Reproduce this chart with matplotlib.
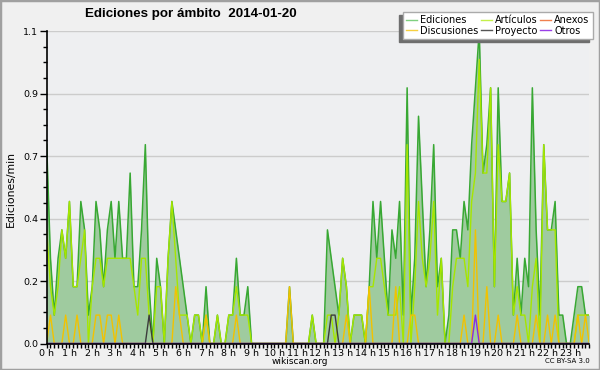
import numpy as np
import matplotlib
matplotlib.use("Agg")
import matplotlib.pyplot as plt
from matplotlib.ticker import FixedLocator, MultipleLocator

# edits per 10-minute slot (counts), rate = count / 10 per minute
ediciones = [7, 3, 1, 3, 4, 3, 5, 2, 2, 5,
             4, 1, 2, 5, 4, 2, 4, 5, 3, 5,
             3, 3, 6, 2, 2, 4, 7, 2, 0, 3,
             2, 0, 3, 5, 4, 3, 2, 1, 0, 1,
             1, 0, 2, 0, 0, 1, 0, 0, 1, 1,
             3, 1, 1, 2, 0, 0, 0, 0, 0, 0,
             0, 0, 0, 0, 2, 0, 0, 0, 0, 0,
             1, 0, 0, 0, 4, 3, 2, 1, 3, 2,
             0, 1, 1, 1, 0, 2, 5, 3, 5, 3,
             1, 4, 3, 5, 1, 9, 1, 3, 8, 5,
             2, 4, 7, 2, 3, 0, 1, 4, 4, 3,
             5, 4, 7, 9, 11, 6, 7, 9, 2, 9,
             5, 5, 6, 1, 3, 1, 3, 2, 9, 4,
             1, 7, 4, 4, 5, 1, 1, 0, 0, 1,
             2, 2, 1, 1]
articulos = [4, 2, 1, 2, 4, 3, 5, 2, 2, 3,
             4, 0, 2, 3, 3, 2, 3, 3, 3, 3,
             3, 3, 3, 2, 1, 3, 3, 1, 0, 2,
             2, 0, 3, 5, 3, 1, 1, 1, 0, 1,
             1, 0, 1, 0, 0, 1, 0, 0, 1, 1,
             2, 1, 1, 1, 0, 0, 0, 0, 0, 0,
             0, 0, 0, 0, 0, 0, 0, 0, 0, 0,
             1, 0, 0, 0, 1, 1, 0, 1, 3, 2,
             0, 1, 1, 1, 0, 2, 2, 3, 3, 2,
             1, 1, 1, 2, 0, 7, 0, 2, 5, 3,
             2, 3, 5, 1, 3, 0, 0, 2, 3, 3,
             3, 2, 5, 6, 10, 6, 6, 9, 2, 7,
             5, 5, 6, 1, 2, 1, 1, 0, 2, 3,
             0, 7, 4, 4, 4, 0, 0, 0, 0, 0,
             1, 1, 1, 1]
# sparse series: slot -> count
discusiones = {1: 1, 5: 1, 8: 1, 13: 1, 14: 1, 16: 1, 17: 1, 19: 1,
               34: 2, 35: 1, 42: 1, 50: 1, 64: 2, 79: 1, 85: 2, 92: 2,
               96: 1, 97: 1, 110: 1, 113: 4, 116: 2, 119: 1, 124: 1,
               129: 1, 132: 1, 134: 1, 140: 1, 142: 1}
proyecto = {27: 1, 75: 1, 76: 1}
anexos = {}
otros = {113: 1}

hour_labels = ["%d h" % h for h in range(24)]

n = len(ediciones)
x = np.arange(n) / 6.0


def spread(d):
    v = np.zeros(n)
    for k, c in d.items():
        v[k] = c
    return v / 10.0


ed = np.array(ediciones) / 10.0
ar = np.array(articulos) / 10.0

fig = plt.figure(figsize=(6, 3.7), dpi=100)
fig.patch.set_facecolor("#f0f0f0")
ax = fig.add_axes([0.0778, 0.0716, 0.9043, 0.8446])
ax.set_facecolor("#eeeff1")

ax.fill_between(x, 0, ed, color="#9fcb9f", lw=0, zorder=2)
ax.plot(x, ed, color="#38a833", lw=1.1, zorder=3)
ax.plot(x, ar, color="#a6e600", lw=1.0, zorder=4)
ax.plot(x, spread(anexos), color="#f07a4a", lw=1.0, zorder=4)
ax.plot(x, spread(discusiones), color="#f2c200", lw=1.0, zorder=5)
ax.plot(x, spread(proyecto), color="#3c3c3c", lw=1.0, zorder=6)
ax.plot(x, spread(otros), color="#8a2be2", lw=1.0, zorder=7)

ax.set_xlim(0, x[-1])
ax.set_ylim(0, 1.1)

yt = np.linspace(0, 1.1, 6)
ax.yaxis.set_major_locator(FixedLocator(yt))
ax.yaxis.set_minor_locator(MultipleLocator(0.055))
ax.set_yticklabels(["%.1f" % v for v in yt])
ax.xaxis.set_major_locator(FixedLocator(range(24)))
ax.xaxis.set_minor_locator(MultipleLocator(1 / 6.0))
ax.set_xticklabels(hour_labels)

ax.grid(axis="y", color="#cccccc", lw=1.0, zorder=0)
ax.set_axisbelow(True)
for s in ["top", "right"]:
    ax.spines[s].set_visible(False)
for s in ["left", "bottom"]:
    ax.spines[s].set_color("black")
    ax.spines[s].set_linewidth(1.2)
    ax.spines[s].set_zorder(8)

ax.tick_params(axis="both", which="both", direction="out", color="black",
               labelsize=6.8, pad=1)
ax.tick_params(axis="y", which="major", length=5, width=1)
ax.tick_params(axis="y", which="minor", length=3, width=1)
ax.tick_params(axis="x", which="both", length=3, width=1)

labels = ["Ediciones", "Discusiones", "Artículos", "Proyecto", "Anexos", "Otros"]
leg_colors = ["#7fd07f", "#f7d040", "#c4f04a", "#555555", "#f08050", "#9a40e8"]
proxies = [plt.Line2D([], [], color=c, lw=1.0) for c in leg_colors]
leg = ax.legend(proxies, labels, ncol=3, loc="upper right",
                bbox_to_anchor=(0.988, 0.968), bbox_transform=fig.transFigure,
                borderaxespad=0, fontsize=7.0, handlelength=1.1,
                handletextpad=0.35, columnspacing=0.25, labelspacing=0.05,
                borderpad=0.35, fancybox=False, framealpha=1,
                shadow={"ox": -2.5, "oy": -2, "color": "#6e6e6e", "alpha": 1})
leg.get_frame().set_edgecolor("#aaaaaa")
leg.get_frame().set_linewidth(1.0)
leg.set_zorder(10)

fig.text(0.142, 0.9635, "Ediciones por ámbito  2014-01-20", fontsize=9.6,
         family="Liberation Sans", weight="bold", ha="left", va="center")
fig.text(0.018, 0.49, "Ediciones/min", rotation=90, fontsize=7.8,
         ha="center", va="center")
fig.text(0.5, 0.024, "wikiscan.org", fontsize=6.5, ha="center", va="center")
fig.text(0.983, 0.024, "CC BY-SA 3.0", fontsize=5, ha="right", va="center")

fig.add_artist(plt.Rectangle((0, 0), 1, 1, transform=fig.transFigure,
                             fill=False, ec="#a0a0a0", lw=2.5))

fig.savefig("out.png", dpi=100, facecolor=fig.get_facecolor())
